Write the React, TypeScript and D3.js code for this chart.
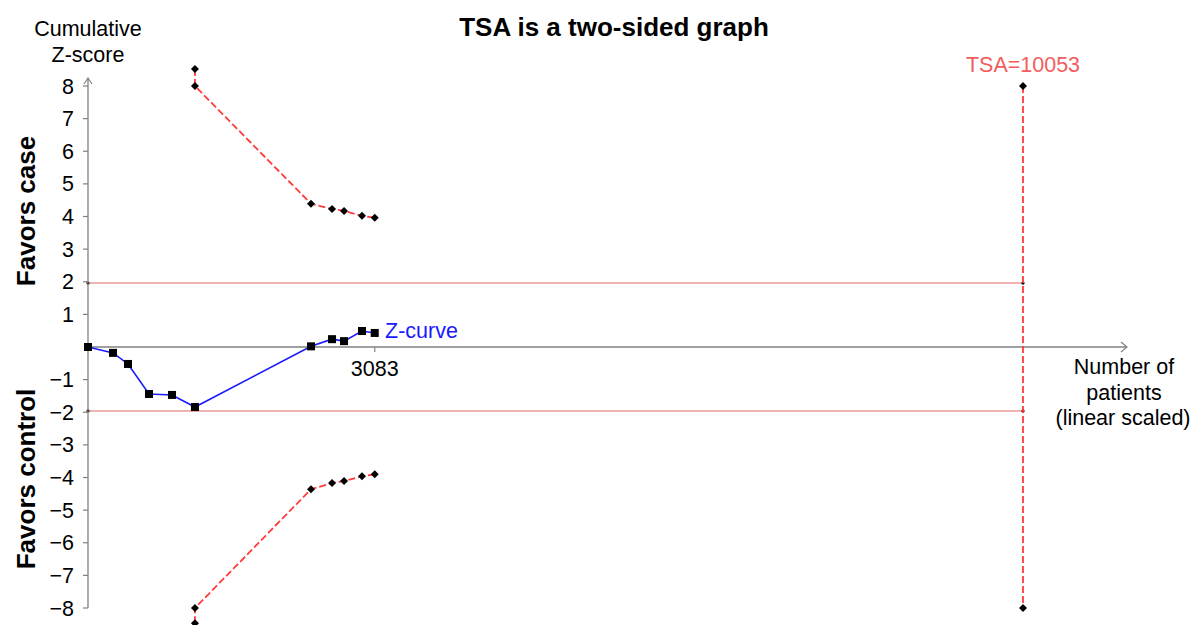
import React from "react";
import * as d3 from "d3";

const zPatients = [0, 269, 430, 656, 903, 1150, 2398, 2624, 2753, 2946, 3083];
const zValues = [0, -0.18, -0.52, -1.44, -1.47, -1.84, 0.02, 0.24, 0.18, 0.49, 0.43];

const boundPatients = [1150, 1150, 2398, 2624, 2753, 2946, 3083];
const upperBound = [8.52, 8.0, 4.39, 4.23, 4.17, 4.02, 3.96];
const lowerBound = [-8.47, -8.0, -4.36, -4.17, -4.11, -3.96, -3.9];

const yTicks = [-8, -7, -6, -5, -4, -3, -2, -1, 1, 2, 3, 4, 5, 6, 7, 8];
const conventional = 1.96;
const tsaSize = 10053;
const lastPatients = 3083;

const W = 1191;
const H = 625;

export default function App() {
  const x = d3.scaleLinear().domain([0, tsaSize]).range([88, 1023]);
  const y = d3.scaleLinear().domain([-8, 8]).range([608, 86]);
  const line = d3.line<[number, number]>().x((d) => x(d[0])).y((d) => y(d[1]));
  const zPts: [number, number][] = zPatients.map((p, i) => [p, zValues[i]]);
  const upPts: [number, number][] = boundPatients.map((p, i) => [p, upperBound[i]]);
  const loPts: [number, number][] = boundPatients.map((p, i) => [p, lowerBound[i]]);
  const axisCol = "#808080";
  const red = "#ff3b3b";
  const font = "Liberation Sans, Arial, sans-serif";
  const fs = 21.5;
  const diamond = (cx: number, cy: number, k: string, r = 4) => (
    <path key={k} d={`M${cx},${cy - r}L${cx + r},${cy}L${cx},${cy + r}L${cx - r},${cy}Z`} fill="#000" />
  );
  return (
    <svg width={W} height={H} style={{ position: "absolute", left: 0, top: 0, background: "#fff" }} fontFamily={font}>
      <rect width={W} height={H} fill="#fff" />
      <text x={614} y={36} textAnchor="middle" fontSize={26} fontWeight="bold">TSA is a two-sided graph</text>
      <text x={88} y={36} textAnchor="middle" fontSize={fs}>Cumulative</text>
      <text x={88} y={62} textAnchor="middle" fontSize={fs}>Z-score</text>

      {/* conventional boundaries */}
      {[conventional, -conventional].map((v) => (
        <g key={v}>
          <line x1={x(0)} x2={x(tsaSize)} y1={y(v)} y2={y(v)} stroke="#e89a9a" strokeWidth={1.5} />
          <circle cx={x(0)} cy={y(v)} r={1.6} fill="#000" />
          <circle cx={x(tsaSize)} cy={y(v)} r={1.6} fill="#000" />
        </g>
      ))}

      {/* y axis */}
      <line x1={88} x2={88} y1={y(-8)} y2={78} stroke={axisCol} strokeWidth={1.3} />
      <path d="M84,84L88,78L92,84" fill="none" stroke={axisCol} strokeWidth={1.2} />
      {yTicks.map((t) => (
        <g key={t}>
          <line x1={83} x2={88} y1={y(t)} y2={y(t)} stroke={axisCol} strokeWidth={1.2} />
          <text x={74} y={y(t) + 7.5} textAnchor="end" fontSize={fs}>{t < 0 ? `\u2212${-t}` : `${t}`}</text>
        </g>
      ))}

      {/* x axis */}
      <line x1={88} x2={1127} y1={y(0)} y2={y(0)} stroke={axisCol} strokeWidth={1.3} />
      <path d="M1121,342L1127,347L1121,352" fill="none" stroke={axisCol} strokeWidth={1.2} transform={`translate(0,${y(0) - 347})`} />
      <line x1={x(lastPatients)} x2={x(lastPatients)} y1={y(0)} y2={y(0) + 5} stroke={axisCol} strokeWidth={1.2} />
      <text x={x(lastPatients)} y={y(0) + 29} textAnchor="middle" fontSize={fs}>{lastPatients}</text>

      <text x={1124} y={374} textAnchor="middle" fontSize={fs}>Number of</text>
      <text x={1124} y={400} textAnchor="middle" fontSize={fs}>patients</text>
      <text x={1123} y={425} textAnchor="middle" fontSize={fs}>(linear scaled)</text>

      <text transform="translate(35,211) rotate(-90)" textAnchor="middle" fontSize={26} fontWeight="bold">Favors case</text>
      <text transform="translate(35,479) rotate(-90)" textAnchor="middle" fontSize={26} fontWeight="bold">Favors control</text>

      {/* TSA vertical */}
      <line x1={x(tsaSize)} x2={x(tsaSize)} y1={y(8)} y2={y(-8)} stroke={red} strokeWidth={1.8} strokeDasharray="7,3" />
      {diamond(x(tsaSize), y(8), "t1")}
      {diamond(x(tsaSize), y(-8), "t2")}
      <text x={x(tsaSize)} y={72} textAnchor="middle" fontSize={fs} fill="#f25c5c">TSA={tsaSize}</text>

      {/* monitoring boundaries */}
      <path d={line(upPts) || ""} fill="none" stroke={red} strokeWidth={1.8} strokeDasharray="7,3" />
      <path d={line(loPts) || ""} fill="none" stroke={red} strokeWidth={1.8} strokeDasharray="7,3" />
      {upPts.map((p, i) => diamond(x(p[0]), y(p[1]), `u${i}`))}
      {loPts.map((p, i) => diamond(x(p[0]), y(p[1]), `l${i}`))}

      {/* Z-curve */}
      <path d={line(zPts) || ""} fill="none" stroke="#1a1aff" strokeWidth={1.6} />
      {zPts.map((p, i) => (
        <rect key={i} x={x(p[0]) - 4} y={y(p[1]) - 4} width={8} height={8} fill="#000" />
      ))}
      <text x={385} y={338} fontSize={fs} fill="#1a1aff">Z-curve</text>
    </svg>
  );
}
